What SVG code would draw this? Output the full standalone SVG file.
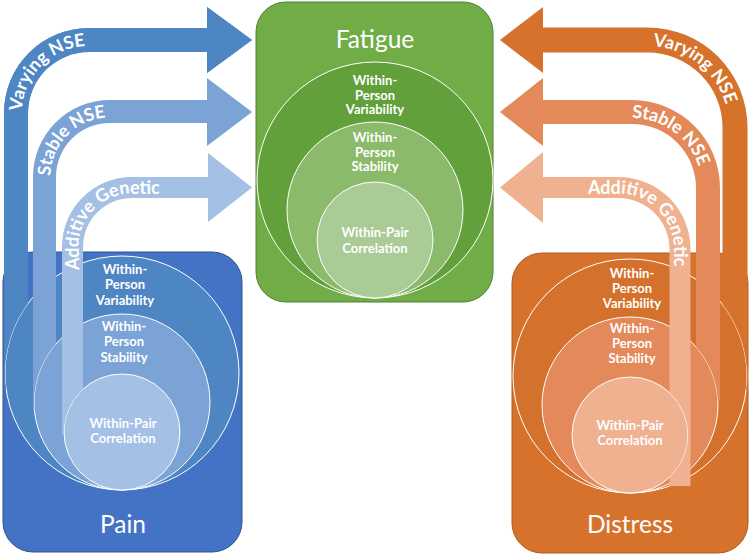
<svg xmlns="http://www.w3.org/2000/svg" width="750" height="555" viewBox="0 0 750 555">
<style>
.box{stroke-width:1}
.circ{stroke:#ffffff;stroke-width:1}
.lbl{font-family:Lato,"Open Sans","Liberation Sans",sans-serif;font-weight:bold;font-size:13px;fill:#ffffff;text-anchor:middle}
.title{font-family:Lato,"Open Sans","Liberation Sans",sans-serif;font-size:24.5px;fill:#ffffff;text-anchor:middle}
.alab{font-family:Lato,"Open Sans","Liberation Sans",sans-serif;font-weight:bold;font-size:18px;fill:#ffffff}
</style>
<defs>
<mask id="mPainOuter" maskUnits="userSpaceOnUse" x="0" y="0" width="750" height="555"><rect width="750" height="555" fill="#fff"/><circle cx="122" cy="373" r="117" fill="#000"/></mask>
<mask id="mPainMid" maskUnits="userSpaceOnUse" x="0" y="0" width="750" height="555"><rect width="750" height="555" fill="#fff"/><circle cx="122" cy="402" r="88" fill="#000"/></mask>
<mask id="mPainIn" maskUnits="userSpaceOnUse" x="0" y="0" width="750" height="555"><rect width="750" height="555" fill="#fff"/><circle cx="122" cy="432" r="58" fill="#000"/></mask>
<mask id="mDisOuter" maskUnits="userSpaceOnUse" x="0" y="0" width="750" height="555"><rect width="750" height="555" fill="#fff"/><circle cx="630" cy="376" r="117" fill="#000"/></mask>
<mask id="mDisMid" maskUnits="userSpaceOnUse" x="0" y="0" width="750" height="555"><rect width="750" height="555" fill="#fff"/><circle cx="630" cy="405" r="88" fill="#000"/></mask>
<mask id="mDisIn" maskUnits="userSpaceOnUse" x="0" y="0" width="750" height="555"><rect width="750" height="555" fill="#fff"/><circle cx="630" cy="435" r="58" fill="#000"/></mask>
<path id="tpLV" d="M22,120 V113 A67,67 0 0 1 89,46 H205"/>
<path id="tpLS" d="M50.5,185 V177 A59.5,59.5 0 0 1 110,117.5 H205"/>
<path id="tpLA" d="M78.5,280 V247 A53.5,53.5 0 0 1 132,193.5 H205"/>
<path id="tpRV" d="M640,46 H647.5 A81.5,81.5 0 0 1 729,127.5 V300"/>
<path id="tpRS" d="M620,118 H632 A70,70 0 0 1 702,188 V300"/>
<path id="tpRA" d="M580,193.5 H618.5 A55.5,55.5 0 0 1 674,249 V350"/>
</defs>
<rect width="750" height="555" fill="#ffffff"/>

<g id="fatigue">
<rect class="box" x="256" y="2" width="237" height="300" rx="30" fill="#70AD47" stroke="#507E32"/>
<text class="title" x="375" y="48">Fatigue</text>
<circle class="circ" cx="375" cy="180" r="118" fill="#62A03B"/>
<circle class="circ" cx="375" cy="210" r="88" fill="#8BBA6A"/>
<circle class="circ" cx="375" cy="240" r="58" fill="#AACB96"/>
<text class="lbl" x="375" y="84.5">Within-</text>
<text class="lbl" x="375" y="99.5">Person</text>
<text class="lbl" x="375" y="114">Variability</text>
<text class="lbl" x="375" y="141.5">Within-</text>
<text class="lbl" x="375" y="156.5">Person</text>
<text class="lbl" x="375" y="171">Stability</text>
<text class="lbl" x="375" y="236.5">Within-Pair</text>
<text class="lbl" x="375" y="252.5">Correlation</text>
</g>

<g id="pain">
<rect class="box" x="3" y="252" width="239" height="300" rx="30" fill="#4472C4" stroke="#2F528F"/>
<path d="M4,390 V113 A85,85 0 0 1 89,28 H207 V7 L252,40 L207,73 V52 H89 A61,61 0 0 0 28,113 V390 Z" fill="#4E86C4"/>
<circle class="circ" cx="122" cy="373" r="117" fill="#4E86C4"/>
<circle class="circ" cx="122" cy="402" r="88" fill="#7BA3D6"/>
<circle class="circ" cx="122" cy="432" r="58" fill="#A4C0E5"/>
<text class="lbl" x="125" y="273.5">Within-</text>
<text class="lbl" x="125" y="288.5">Person</text>
<text class="lbl" x="125" y="304.5">Variability</text>
<text class="lbl" x="124" y="330.5">Within-</text>
<text class="lbl" x="124" y="345.5">Person</text>
<text class="lbl" x="124" y="361.5">Stability</text>
<text class="lbl" x="123" y="427.5">Within-Pair</text>
<text class="lbl" x="123" y="442.5">Correlation</text>
<text class="title" x="123" y="533">Pain</text>
</g>

<g id="distress">
<rect class="box" x="512" y="253" width="236" height="300" rx="30" fill="#D6722B" stroke="#AE5A21"/>
<circle class="circ" cx="630" cy="376" r="117" fill="#D4712C"/>
<circle class="circ" cx="630" cy="405" r="88" fill="#E3895A"/>
<circle class="circ" cx="630" cy="435" r="58" fill="#EFB18F"/>
<text class="lbl" x="632" y="277.5">Within-</text>
<text class="lbl" x="632" y="292.5">Person</text>
<text class="lbl" x="632" y="307.5">Variability</text>
<text class="lbl" x="632" y="332.5">Within-</text>
<text class="lbl" x="632" y="347.5">Person</text>
<text class="lbl" x="632" y="362.5">Stability</text>
<text class="lbl" x="630" y="429.5">Within-Pair</text>
<text class="lbl" x="630" y="444.5">Correlation</text>
<text class="title" x="630" y="533">Distress</text>
</g>

<g id="connectors">
<g mask="url(#mPainOuter)">
<path d="M4,390 V113 A85,85 0 0 1 89,28 H207 V7 L252,40 L207,73 V52 H89 A61,61 0 0 0 28,113 V390 Z" fill="#4E86C4"/>
</g>
<g mask="url(#mPainMid)">
<path d="M33,410 V177 A77,77 0 0 1 110,100 H207 V78 L252,112 L207,146 V123 H110 A54,54 0 0 0 56,177 V410 Z" fill="#7BA3D6"/>
</g>
<g mask="url(#mPainIn)">
<path d="M62,435 V247 A70,70 0 0 1 132,177 H208 V153 L252,187.5 L208,222 V198 H132 A49,49 0 0 0 83,247 V435 Z" fill="#A4C0E5"/>
</g>
<g mask="url(#mDisOuter)">
<path d="M747.5,390 V127.5 A100,100 0 0 0 647.5,27.5 H543 V7 L500,40 L543,73 V52.5 H647.5 A75,75 0 0 1 722.5,127.5 V390 Z" fill="#D6722B"/>
</g>
<g mask="url(#mDisMid)">
<path d="M720,400 V188 A88,88 0 0 0 632,100 H543 V78 L500,112 L543,146 V124 H632 A64,64 0 0 1 696,188 V400 Z" fill="#E3895A"/>
</g>
<g mask="url(#mDisIn)">
<path d="M690.5,486 V249 A72,72 0 0 0 618.5,177 H543 V152 L500,187.5 L543,223 V198 H618.5 A51,51 0 0 1 669.5,249 V486 Z" fill="#EFB18F"/>
</g>
<text class="alab"><textPath href="#tpLV" startOffset="9">Varying NSE</textPath></text>
<text class="alab"><textPath href="#tpLS" startOffset="9">Stable NSE</textPath></text>
<text class="alab"><textPath href="#tpLA" startOffset="10">Additive Genetic</textPath></text>
<text class="alab"><textPath href="#tpRV" startOffset="13">Varying NSE</textPath></text>
<text class="alab"><textPath href="#tpRS" startOffset="12">Stable NSE</textPath></text>
<text class="alab"><textPath href="#tpRA" startOffset="8">Additive Genetic</textPath></text>
</g>
</svg>
